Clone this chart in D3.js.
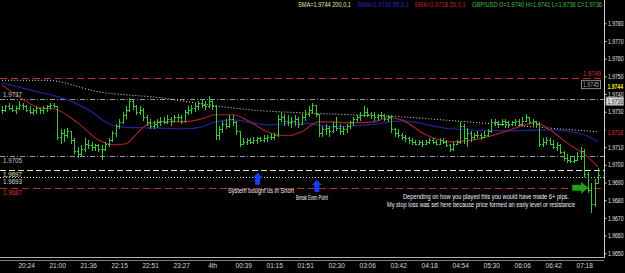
<!DOCTYPE html>
<html>
<head>
<meta charset="utf-8">
<script src="https://cdn.jsdelivr.net/npm/d3@7"></script>
<style>
  body { margin: 0; background: #000; }
  svg { display: block; background: #000; font-family: "Liberation Sans", Arial, sans-serif; }
</style>
</head>
<body>
<svg width="625" height="273"></svg>
<script>
// prices are kept in pips above BASE
const BASE = 1.9700;

// bar highs / lows / closes, one per bar (4 min bars)
const hi = [33,34,35,34,33,36,35,34,33,32,33,32,33,34,35,35,
  33,20,20,21,19,15,10,11,15,14,13,12,12,11,13,15,19,23,26,30,33,38,37,34,
  33,32,28,26,25,26,27,27,28,27,28,29,28,31,33,34,35,36,37,36,39,37,34,
  22,25,26,28,28,25,19,15,15,15,16,16,16,17,17,18,18,28,30,29,28,27,28,27,29,31,33,35,34,29,
  22,23,22,24,27,23,22,23,25,27,28,30,33,32,30,30,29,30,29,28,28,21,20,18,17,16,15,
  14,14,14,14,15,15,14,15,15,14,12,13,14,24,23,21,19,18,19,18,19,20,26,
  26,25,26,26,25,25,26,26,27,29,27,26,25,24,15,16,15,14,13,12,8,6,5,5,7,10,9,-4,-10,-8,-2];
const lo = [29,30,31,30,29,31,31,30,29,28,29,29,29,30,31,32,
  14,12,13,15,12,6,4,5,7,9,8,8,7,3,8,10,13,16,20,23,26,30,31,28,
  28,25,22,20,20,21,22,23,23,22,24,24,23,25,28,29,30,31,32,31,32,31,14,
  14,18,20,21,22,17,10,11,11,12,12,12,13,13,13,14,14,16,24,22,22,21,22,21,23,25,27,29,27,16,
  16,17,16,18,19,17,17,18,20,22,24,25,27,27,26,25,25,26,25,24,18,16,15,14,13,12,11,
  11,11,10,11,12,12,11,12,12,10,7,8,11,12,12,10,13,14,15,14,15,16,18,
  22,21,22,21,21,22,22,22,22,24,23,22,21,10,10,11,11,9,8,6,2,1,1,1,2,3,-7,-16,-27,-24,-10];
const cl = [31,33,32,31,32,34,33,31,30,31,32,31,32,33,34,33,
  16,18,17,19,14,8,6,9,12,11,10,11,9,9,12,14,18,22,24,28,31,36,33,30,
  31,27,24,22,23,24,25,24,26,25,27,27,25,30,31,32,33,35,34,33,36,33,17,
  20,23,22,26,24,19,12,13,14,13,14,15,14,15,16,16,17,26,27,25,24,25,26,23,27,29,31,34,29,18,
  20,21,19,22,21,19,20,22,24,26,27,28,30,29,28,27,28,28,26,27,20,18,17,16,15,14,13,
  12,13,12,13,14,13,12,14,13,11,9,12,13,22,15,18,16,17,17,16,17,19,24,
  24,23,25,24,23,24,25,23,25,27,24,25,23,12,13,14,12,10,11,7,4,3,2,3,5,8,-5,-14,-22,-10,-6];

// moving averages, sampled at bar indexes
const sma200Idx = [0, 13, 28, 46, 60, 72, 87, 101, 116, 135, 154, 173];
const sma200 = [47.8, 47.8, 41.3, 37.9, 33.9, 31.1, 29.4, 28.3, 27.1, 24.3, 21.5, 18.7];
const sma50Idx = [0, 8, 19, 26, 31, 34, 43, 53, 58, 62, 67, 77, 87, 96, 106, 116, 130, 145, 159, 169, 173];
const sma50 = [46.4, 42.4, 36.7, 30, 23.2, 21.5, 20.9, 20.4, 21.5, 24.3, 25.4, 22.6, 23.7, 21.5, 22.6, 24.9, 20.4, 19.2, 19.8, 17, 13];
const sma20Idx = [0, 5, 11, 15, 22, 28, 33, 36, 38, 42, 46, 53, 58, 62, 67, 72, 77, 83, 87, 92, 96, 101, 108, 112, 116, 123, 130, 137, 145, 152, 155, 159, 164, 170, 173];
const sma20 = [45.2, 38.4, 32.2, 31.7, 23.7, 14.1, 11.3, 11.9, 15.3, 22.6, 24.3, 24.3, 26, 28.3, 28.3, 24.3, 18.7, 16.4, 18.7, 24.3, 24.3, 23.7, 24.3, 26.6, 25.4, 17, 13, 14.1, 18.1, 22.6, 23.7, 19.8, 12.4, 4.5, -1.1];

// price axis and time axis
const priceTicks = [1.9650, 1.9660, 1.9670, 1.9680, 1.9690, 1.9700, 1.9710, 1.9720, 1.9730, 1.9740, 1.9750, 1.9760, 1.9770, 1.9780];
const timeLabels = ['20:24','21:00','21:36','22:15','22:51','23:27','4th','00:39','01:15','01:51','02:30','03:06','03:42','04:18','04:54','05:30','06:06','06:42','07:18'];
const timeIdx = [7,16,25,34,43,52,61,70,79,88,97,106,115,124,133,142,151,160,169];

// horizontal levels drawn on the chart
const levels = [1.9749, 1.9737, 1.9705, 1.9697, 1.9693, 1.9687];
const levelColors = ['#b83232', '#9a9a9a', '#9a9a9a', '#e4e4b4', '#d8d8d8', '#b83232'];
const levelDash = ['7,4', '5,2,1,2', '5,2,1,2', '6,3', '1,2', '7,4'];

const px = (v) => BASE + v / 10000;

function drawChart() {
  const svg = d3.select('svg');
  const right = 604.5;
  const squeeze = 0.78; // axis text is narrow in the screenshot

  const x = d3.scaleLinear().domain([0, 173]).range([2, 598]);
  const y = d3.scaleLinear().domain([1.9650, 1.9780]).range([253.3, 23.3]);

  // levels
  svg.append('g').selectAll('line')
    .data(levels)
    .enter()
    .append('line')
    .attr('x1', 0)
    .attr('x2', right)
    .attr('y1', (d) => Math.round(y(d)) + 0.5)
    .attr('y2', (d) => Math.round(y(d)) + 0.5)
    .attr('stroke', (d, i) => levelColors[i])
    .attr('stroke-dasharray', (d, i) => levelDash[i])
    .attr('stroke-width', 1);

  // moving averages
  const maLine = (idx) => d3.line()
    .x((d, i) => x(idx[i]))
    .y((d) => y(px(d)))
    .curve(d3.curveMonotoneX);

  svg.append('path')
    .attr('d', maLine(sma200Idx)(sma200))
    .attr('fill', 'none')
    .attr('stroke', '#e8e8b0')
    .attr('stroke-width', 1)
    .attr('stroke-dasharray', '1,2');

  svg.append('path')
    .attr('d', maLine(sma50Idx)(sma50))
    .attr('fill', 'none')
    .attr('stroke', '#22229c')
    .attr('stroke-width', 1.2);

  svg.append('path')
    .attr('d', maLine(sma20Idx)(sma20))
    .attr('fill', 'none')
    .attr('stroke', '#a82426')
    .attr('stroke-width', 1.1);

  // bars
  const bars = svg.append('g')
    .attr('stroke', '#3fc43f')
    .attr('stroke-width', 1)
    .attr('shape-rendering', 'crispEdges');

  hi.forEach((h, i) => {
    const bx = Math.round(x(i)) + 0.5;
    const op = i > 0 ? cl[i - 1] : cl[0];
    bars.append('line')
      .attr('x1', bx).attr('x2', bx)
      .attr('y1', y(px(h))).attr('y2', y(px(lo[i])));
    bars.append('line')
      .attr('x1', bx - 1.5).attr('x2', bx)
      .attr('y1', Math.round(y(px(op))) + 0.5).attr('y2', Math.round(y(px(op))) + 0.5);
    bars.append('line')
      .attr('x1', bx).attr('x2', bx + 1.5)
      .attr('y1', Math.round(y(px(cl[i]))) + 0.5).attr('y2', Math.round(y(px(cl[i]))) + 0.5);
  });

  // level labels on the left
  const leftLabels = svg.append('g').attr('font-size', '7px');
  levels.slice(1).forEach((d, k) => {
    const i = k + 1;
    const above = d === 1.9737;
    leftLabels.append('text')
      .attr('x', 3)
      .attr('y', above ? y(d) - 2.5 : y(d) + 7)
      .attr('fill', levelColors[i] === '#9a9a9a' ? '#c8c8c8' : levelColors[i] === '#b83232' ? '#d83a3a' : levelColors[i])
      .attr('textLength', 19)
      .attr('lengthAdjust', 'spacingAndGlyphs')
      .text(d.toFixed(4));
  });

  // labels near the right edge
  svg.append('text')
    .attr('x', 583).attr('y', y(1.9749) - 2.5)
    .attr('font-size', '7px').attr('fill', '#d83a3a')
    .attr('textLength', 18).attr('lengthAdjust', 'spacingAndGlyphs')
    .text('1.9749');
  svg.append('rect')
    .attr('x', 581.5).attr('y', y(1.9749) + 2.5)
    .attr('width', 19).attr('height', 8)
    .attr('fill', 'none').attr('stroke', '#8a8a8a');
  svg.append('text')
    .attr('x', 583).attr('y', y(1.9749) + 9)
    .attr('font-size', '7px').attr('fill', '#a8a8a8')
    .attr('textLength', 16).attr('lengthAdjust', 'spacingAndGlyphs')
    .text('1.9745');

  // frame
  svg.append('line')
    .attr('x1', right).attr('x2', right)
    .attr('y1', 0).attr('y2', 258)
    .attr('stroke', '#d0d0d0');
  svg.append('line')
    .attr('x1', 0).attr('x2', right)
    .attr('y1', 257.5).attr('y2', 257.5)
    .attr('stroke', '#b0b0b0');
  svg.append('line')
    .attr('x1', 0).attr('x2', right)
    .attr('y1', 260.5).attr('y2', 260.5)
    .attr('stroke', '#808080');

  // price axis (1.9720 sits under the 1.9718 tag, so its text is left out)
  const yAxis = svg.append('g')
    .attr('transform', `translate(${right}, 0)`)
    .call(d3.axisRight(y).tickValues(priceTicks).tickSize(2).tickPadding(0)
      .tickFormat((d) => (Math.abs(d - 1.9720) < 1e-6 ? '' : d.toFixed(4))));
  yAxis.select('.domain').remove();
  yAxis.selectAll('line').attr('stroke', '#d0d0d0');
  yAxis.selectAll('text')
    .attr('x', 3.5 / squeeze)
    .attr('transform', `scale(${squeeze},1)`)
    .attr('fill', '#e0e0e0')
    .attr('font-size', '6.5px')
    .attr('font-family', '"Liberation Sans", Arial, sans-serif');

  // value boxes on the price axis
  const tags = svg.append('g').attr('font-size', '6.5px');
  const tag = (price, col, bold) => tags.append('text')
    .attr('x', (right + 3) / squeeze)
    .attr('y', y(price) + 2.5)
    .attr('transform', `scale(${squeeze},1)`)
    .attr('fill', col)
    .attr('font-weight', bold ? 'bold' : null)
    .text(price.toFixed(4));

  tags.append('rect')
    .attr('x', right + 1).attr('y', y(1.9744) - 4)
    .attr('width', 19).attr('height', 7).attr('fill', '#000');
  tag(1.9744, '#f0f000', true);
  tags.append('rect')
    .attr('x', right + 1.5).attr('y', y(1.9736) - 4)
    .attr('width', 17.5).attr('height', 8)
    .attr('fill', '#d8d8d8').attr('stroke', '#888');
  tag(1.9736, '#303030', false);
  tags.append('rect')
    .attr('x', right + 1).attr('y', y(1.9718) - 4)
    .attr('width', 19).attr('height', 8).attr('fill', '#000');
  tag(1.9718, '#e03030', false);

  // time axis
  const xAxis = svg.append('g')
    .attr('transform', 'translate(0, 261)')
    .call(d3.axisBottom(x).tickValues(timeIdx).tickSize(0).tickPadding(2).tickFormat((d, i) => timeLabels[i]));
  xAxis.select('.domain').remove();
  xAxis.selectAll('text')
    .attr('fill', '#d8d8d8')
    .attr('font-size', '6.5px')
    .attr('font-family', '"Liberation Sans", Arial, sans-serif');

  // indicator legend on top
  const legend = [
    { t: 'SMA=1.9744 200,0,1', c: '#e8e8a0', x: 298, w: 53 },
    { t: 'SMA=1.9718 50,0,1', c: '#2a2ad0', x: 357.5, w: 51.5 },
    { t: 'SMA=1.9718 20,0,1', c: '#c82828', x: 414.5, w: 51 },
    { t: 'GBP/USD O=1.9740 H=1.9741 L=1.9736 C=1.9736', c: '#3fc43f', x: 472, w: 130 }
  ];
  svg.append('g').selectAll('text')
    .data(legend)
    .enter()
    .append('text')
    .attr('x', (d) => d.x)
    .attr('y', 7)
    .attr('font-size', '6.5px')
    .attr('fill', (d) => d.c)
    .attr('textLength', (d) => d.w)
    .attr('lengthAdjust', 'spacingAndGlyphs')
    .text((d) => d.t);

  // signal arrows
  const upArrow = (cx, top, col) => {
    svg.append('path')
      .attr('d', `M${cx},${top} L${cx + 5},${top + 5} L${cx + 2.5},${top + 5} L${cx + 2.5},${top + 12} L${cx - 2.5},${top + 12} L${cx - 2.5},${top + 5} L${cx - 5},${top + 5} Z`)
      .attr('fill', col);
  };
  upArrow(x(74.2), y(px(-4.5)), '#1a3cff');
  upArrow(x(91.4), y(px(-8.5)), '#1a3cff');

  const gy = y(1.9687);
  const gx = x(165.5);
  svg.append('path')
    .attr('d', `M${gx},${gy - 3} L${gx + 9},${gy - 3} L${gx + 9},${gy - 6} L${gx + 16},${gy} L${gx + 9},${gy + 6} L${gx + 9},${gy + 3} L${gx},${gy + 3} Z`)
    .attr('fill', '#1aa01a');

  // notes
  const notes = [
    { t: 'System bought us in Short', x: 228, y: 192.5, w: 66 },
    { t: 'Break Even Point', x: 296, y: 200, w: 32 },
    { t: 'Depending on how you played this you would have made 6+ pips.', x: 403, y: 199, w: 166 },
    { t: 'My stop loss was set here because price formed an early level or resistance', x: 387, y: 206.5, w: 188 }
  ];
  svg.append('g').selectAll('text')
    .data(notes)
    .enter()
    .append('text')
    .attr('x', (d) => d.x)
    .attr('y', (d) => d.y)
    .attr('font-size', '6.5px')
    .attr('fill', '#f0f0f0')
    .attr('textLength', (d) => d.w)
    .attr('lengthAdjust', 'spacingAndGlyphs')
    .text((d) => d.t);
}

drawChart();
</script>
</body>
</html>
